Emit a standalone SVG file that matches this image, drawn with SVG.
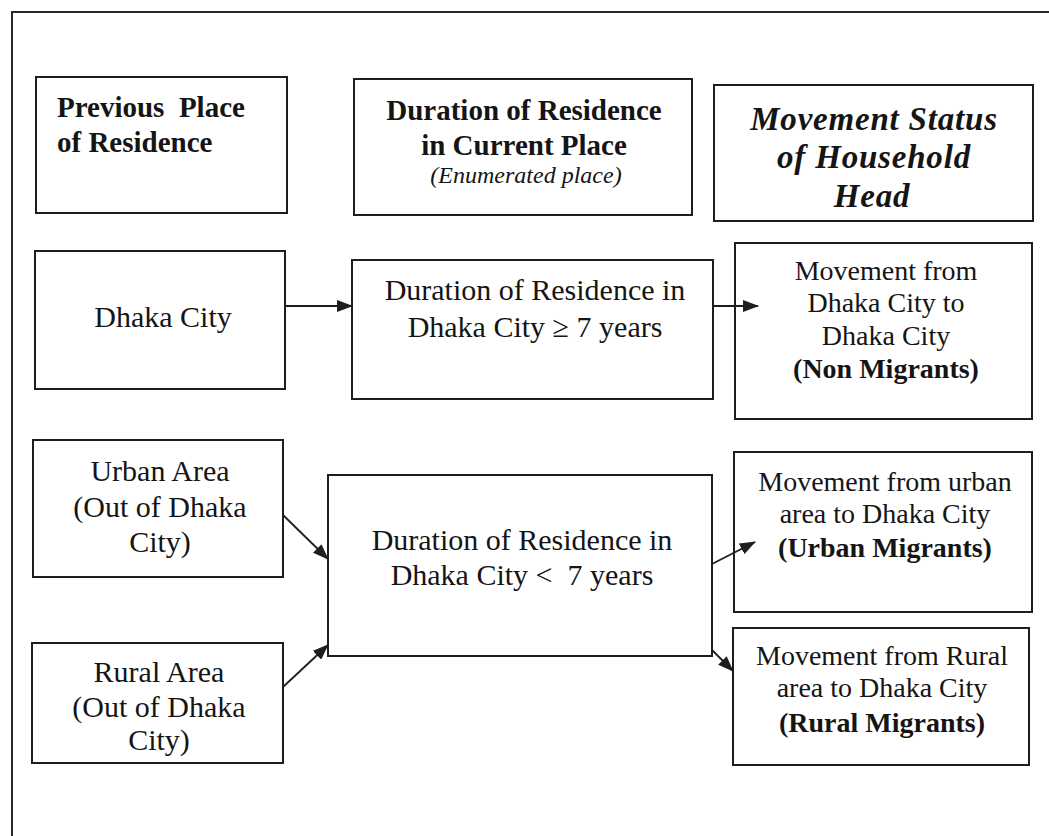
<svg xmlns="http://www.w3.org/2000/svg" width="1049" height="836" viewBox="0 0 1049 836">
  <style>
    .box { fill: #ffffff; stroke: #1e1e1e; stroke-width: 2; }
    .frame { fill: none; stroke: #2a2a2a; stroke-width: 2; }
    .link { fill: none; stroke: #1e1e1e; stroke-width: 1.8; marker-end: url(#arrow); }
    text { font-family: "Liberation Serif", "Times New Roman", serif; fill: #151515; }
    .hd { font-size: 29px; font-weight: bold; }
    .hd3 { font-size: 33px; font-weight: bold; font-style: italic; letter-spacing: 0.8px; }
    .sub { font-size: 24px; font-style: italic; }
    .lg { font-size: 30px; }
    .md { font-size: 28px; }
    .b { font-weight: bold; }
    .c { text-anchor: middle; }
  </style>
  <defs>
    <marker id="arrow" markerUnits="userSpaceOnUse" markerWidth="16" markerHeight="12" viewBox="0 0 16 12" refX="15" refY="6" orient="auto">
      <path d="M0,0 L16,6 L0,12 Z" fill="#1e1e1e"/>
    </marker>
  </defs>

  <rect width="1049" height="836" fill="#ffffff"/>

  <!-- outer frame -->
  <path class="frame" d="M12,836 V12 H1049"/>

  <!-- column headings -->
  <g id="head-previous">
    <rect class="box" x="36" y="77" width="251" height="136"/>
    <text class="hd" x="57" y="117" xml:space="preserve">Previous  Place</text>
    <text class="hd" x="57" y="152">of Residence</text>
  </g>
  <g id="head-duration">
    <rect class="box" x="354" y="79" width="338" height="136"/>
    <text class="hd c" x="524" y="120">Duration of Residence</text>
    <text class="hd c" x="524" y="155">in Current Place</text>
    <text class="sub c" x="526" y="183">(Enumerated place)</text>
  </g>
  <g id="head-status">
    <rect class="box" x="714" y="85" width="319" height="136"/>
    <text class="hd3 c" x="874" y="130">Movement Status</text>
    <text class="hd3 c" x="874" y="168">of Household</text>
    <text class="hd3 c" x="872" y="207">Head</text>
  </g>

  <!-- origins -->
  <g id="origin-dhaka">
    <rect class="box" x="35" y="251" width="250" height="138"/>
    <text class="lg c" x="163" y="327">Dhaka City</text>
  </g>
  <g id="origin-urban">
    <rect class="box" x="33" y="440" width="250" height="137"/>
    <text class="lg c" x="160" y="481">Urban Area</text>
    <text class="lg c" x="160" y="517">(Out of Dhaka</text>
    <text class="lg c" x="160" y="552">City)</text>
  </g>
  <g id="origin-rural">
    <rect class="box" x="32" y="643" width="251" height="120"/>
    <text class="lg c" x="159" y="682">Rural Area</text>
    <text class="lg c" x="159" y="717">(Out of Dhaka</text>
    <text class="lg c" x="159" y="750">City)</text>
  </g>

  <!-- duration of residence -->
  <g id="dur-long">
    <rect class="box" x="352" y="260" width="361" height="139"/>
    <text class="lg c" x="535" y="300">Duration of Residence in</text>
    <text class="lg c" x="535" y="337">Dhaka City ≥ 7 years</text>
  </g>
  <g id="dur-short">
    <rect class="box" x="328" y="475" width="384" height="181"/>
    <text class="lg c" x="522" y="550">Duration of Residence in</text>
    <text class="lg c" x="522" y="585" xml:space="preserve">Dhaka City &lt;  7 years</text>
  </g>

  <!-- movement status -->
  <g id="status-non">
    <rect class="box" x="735" y="243" width="297" height="176"/>
    <text class="md c" x="886" y="280">Movement from</text>
    <text class="md c" x="886" y="312">Dhaka City to</text>
    <text class="md c" x="886" y="345">Dhaka City</text>
    <text class="md b c" x="886" y="378">(Non Migrants)</text>
  </g>
  <g id="status-urban">
    <rect class="box" x="734" y="452" width="298" height="160"/>
    <text class="md c" x="885" y="491">Movement from urban</text>
    <text class="md c" x="885" y="523">area to Dhaka City</text>
    <text class="md b c" x="885" y="557">(Urban Migrants)</text>
  </g>
  <g id="status-rural">
    <rect class="box" x="733" y="628" width="296" height="137"/>
    <text class="md c" x="882" y="665">Movement from Rural</text>
    <text class="md c" x="882" y="697">area to Dhaka City</text>
    <text class="md b c" x="882" y="732">(Rural Migrants)</text>
  </g>

  <!-- connectors -->
  <g id="connectors">
    <line class="link" x1="285" y1="306" x2="352" y2="306"/>
    <line class="link" x1="713" y1="306" x2="758" y2="306"/>
    <line class="link" x1="283" y1="515" x2="328" y2="559"/>
    <line class="link" x1="283" y1="687" x2="328" y2="645"/>
    <line class="link" x1="712" y1="564" x2="755" y2="542"/>
    <line class="link" x1="712" y1="650" x2="733" y2="671"/>
  </g>
</svg>
